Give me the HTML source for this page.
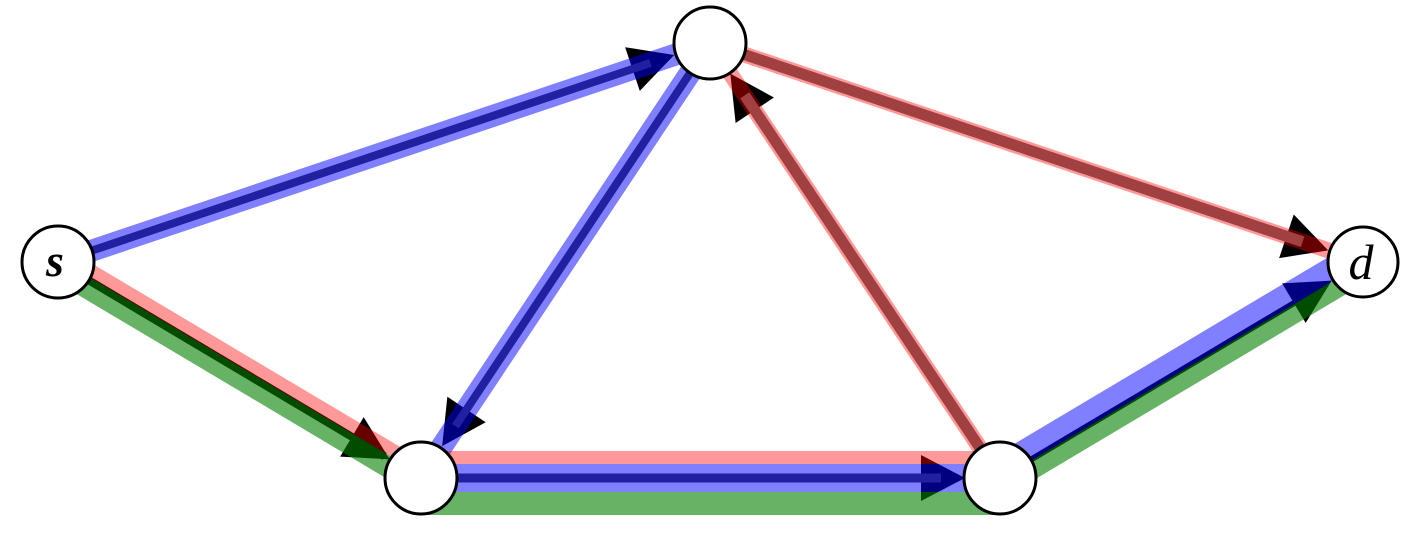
<!DOCTYPE html>
<html><head><style>
html,body{margin:0;padding:0;background:#fff;}
svg{display:block;}
</style></head><body>
<svg width="1428" height="540" viewBox="0 0 1428 540" xmlns="http://www.w3.org/2000/svg">
<defs>
<g id="arr"><polygon points="0,0 -44,-23 -44,23" fill="#000"/></g>
</defs>
<!-- black arrows + cores for green-covered edges -->
<g transform="translate(58,262) rotate(-18.57)"><use href="#arr" transform="translate(650,0)"/></g>
<g transform="translate(710,43) rotate(123.6)"><use href="#arr" transform="translate(484,0)"/></g>
<g transform="translate(1000,478) rotate(-123.7)"><use href="#arr" transform="translate(486,0)"/></g>
<g transform="translate(710,43) rotate(18.54)"><use href="#arr" transform="translate(652,0)"/></g>
<g transform="translate(421,478)"><use href="#arr" transform="translate(544,0)"/></g>
<g transform="translate(58,262) rotate(30.75)">
 <rect x="0" y="-4" width="380" height="8" fill="#000"/>
 <use href="#arr" transform="translate(386,0)"/>
</g>
<g transform="translate(1000,478) rotate(-30.75)">
 <rect x="0" y="-3" width="380" height="6" fill="#000"/>
 <use href="#arr" transform="translate(386,0)"/>
</g>

<!-- colored translucent bands -->
<g transform="translate(58,262) rotate(-18.57)">
 <rect x="0" y="-11" width="660" height="22" fill="rgb(0,0,255)" opacity="0.5"/>
 <rect x="0" y="-4" width="625" height="8" fill="#2020a0"/>
</g>
<g transform="translate(710,43) rotate(123.6)">
 <rect x="0" y="-11" width="500" height="22" fill="rgb(0,0,255)" opacity="0.5"/>
 <rect x="0" y="-4" width="460" height="8" fill="#2020a0"/>
</g>
<g transform="translate(1000,478) rotate(-123.7)">
 <rect x="0" y="-8" width="500" height="16" fill="rgb(255,0,0)" opacity="0.4"/>
 <rect x="0" y="-5.5" width="460" height="11" fill="#a04040"/>
</g>
<g transform="translate(710,43) rotate(18.54)">
 <rect x="0" y="-8" width="660" height="16" fill="rgb(255,0,0)" opacity="0.4"/>
 <rect x="0" y="-5.5" width="625" height="11" fill="#a04040"/>
</g>
<g transform="translate(421,478)">
 <rect x="0" y="-27" width="579" height="13" fill="rgb(255,0,0)" opacity="0.4"/>
 <rect x="0" y="-14" width="579" height="28" fill="rgb(0,0,255)" opacity="0.5"/>
 <rect x="0" y="-4.5" width="520" height="9" fill="#2020a0"/>
 <rect x="0" y="14" width="579" height="23" fill="rgb(0,128,0)" opacity="0.6"/>
</g>
<g transform="translate(58,262) rotate(30.75)">
 <rect x="0" y="-16" width="400" height="13" fill="rgb(255,0,0)" opacity="0.4"/>
 <rect x="0" y="-3" width="400" height="21" fill="rgb(0,128,0)" opacity="0.6"/>
</g>
<g transform="translate(1000,478) rotate(-30.75)">
 <rect x="0" y="-22" width="400" height="23" fill="rgb(0,0,255)" opacity="0.5"/>
 <rect x="0" y="1" width="400" height="18" fill="rgb(0,128,0)" opacity="0.6"/>
</g>

<!-- nodes -->
<g fill="#fff" stroke="#000" stroke-width="3">
 <circle cx="58" cy="262" r="36"/>
 <circle cx="710" cy="43" r="36"/>
 <circle cx="421" cy="478" r="36"/>
 <circle cx="1000" cy="478" r="36"/>
 <circle cx="1363" cy="262" r="35"/>
</g>
<text x="55" y="276" font-family="Liberation Serif, serif" font-style="italic" font-weight="bold" font-size="46" text-anchor="middle">s</text>
<text x="1361" y="279" font-family="Liberation Serif, serif" font-style="italic" font-size="50" text-anchor="middle">d</text>
</svg>
</body></html>
